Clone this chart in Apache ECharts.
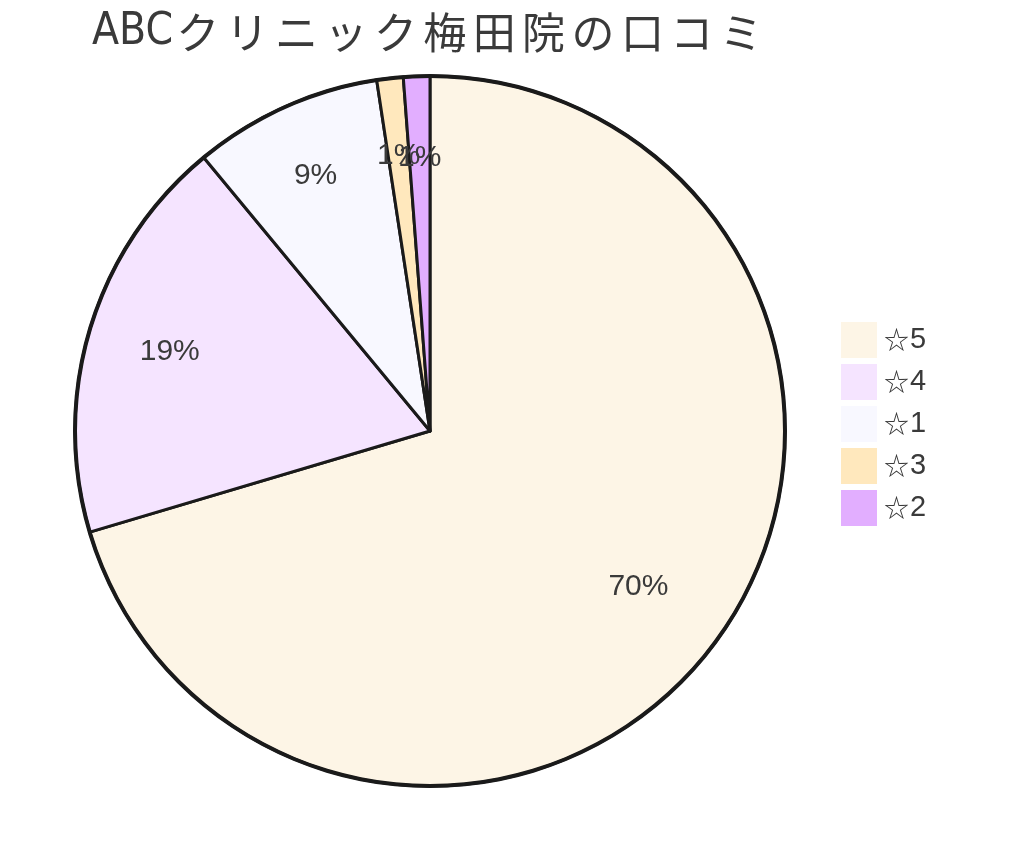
<!DOCTYPE html>
<html>
<head>
<meta charset="utf-8">
<script src="https://cdn.jsdelivr.net/npm/echarts@6/dist/echarts.min.js"></script>
<style>
html,body{margin:0;padding:0;background:#fff;}
#chart{width:1024px;height:861px;}
</style>
</head>
<body>
<div id="chart"></div>
<script>
const titleLatin = 'ABC';
const titleKana = 'クリニック梅田院の口コミ';
const categories = ['☆5', '☆4', '☆1', '☆3', '☆2'];
const values = [70.4, 18.6, 8.6, 1.2, 1.2];
const colors = ['#FDF5E6', '#F5E4FF', '#F8F8FF', '#FFE8BD', '#E2AEFF'];

const FONT = '"Liberation Sans", Arial, "Noto Sans CJK JP", sans-serif';
const TEXT = '#3a3a3a';
const data = categories.map((c, i) => ({ name: c, value: values[i], itemStyle: { color: colors[i] } }));

const titleRich = '{l|' + titleLatin + '}' + Array.from(titleKana).map(ch => '{k|' + ch + '}').join('');

function labelSeries(radius, showIdx) {
  return {
    type: 'pie',
    center: [430, 431],
    radius: radius,
    startAngle: 90,
    clockwise: true,
    avoidLabelOverlap: false,
    minShowLabelAngle: 0,
    labelLayout: { hideOverlap: false },
    data: categories.map((c, i) => ({
      name: c, value: values[i],
      label: { show: showIdx(i) }
    })),
    itemStyle: { color: 'rgba(0,0,0,0)', borderWidth: 0 },
    emphasis: { disabled: true },
    silent: true,
    legendHoverLink: false,
    label: {
      position: 'inside',
      overflow: 'none',
      formatter: p => Math.round(p.percent) + '%',
      fontFamily: FONT,
      fontSize: 30,
      color: TEXT
    },
    labelLine: { show: false }
  };
}

const chart = echarts.init(document.getElementById('chart'));
chart.setOption({
  backgroundColor: '#ffffff',
  animation: false,
  title: {
    text: titleRich,
    left: 92,
    top: 8,
    padding: 0,
    textStyle: {
      fontFamily: FONT, fontSize: 44, fontWeight: 'normal', color: TEXT, lineHeight: 50,
      rich: {
        l: { fontFamily: '"Liberation Sans Narrow", "DejaVu Sans Condensed", sans-serif', fontSize: 44, color: TEXT, lineHeight: 50 },
        k: { fontFamily: '"Noto Sans CJK JP", sans-serif', fontSize: 43, color: TEXT, padding: [0, 3.2, 0, 3.2], lineHeight: 50 }
      }
    }
  },
  legend: {
    orient: 'vertical',
    left: 841,
    top: 322,
    padding: 0,
    itemWidth: 36,
    itemHeight: 36,
    itemGap: 6,
    icon: 'rect',
    data: categories,
    itemStyle: { borderWidth: 0 },
    formatter: name => '{s|' + name.slice(0, 1) + '}{n|' + name.slice(1) + '}',
    textStyle: {
      fontFamily: FONT, fontSize: 29, color: TEXT, padding: [0, 0, 0, 2],
      rich: {
        s: { fontFamily: '"Noto Sans CJK JP", sans-serif', fontSize: 25, color: TEXT, padding: [0, 1, 2, 0] },
        n: { fontFamily: FONT, fontSize: 29, color: TEXT }
      }
    }
  },
  series: [
    {
      type: 'pie',
      center: [430, 431],
      radius: [0, 355],
      startAngle: 90,
      clockwise: true,
      data: data,
      label: { show: false },
      labelLine: { show: false },
      emphasis: { disabled: true },
      itemStyle: { borderColor: '#1a1a1a', borderWidth: 3 }
    },
    {
      type: 'pie',
      center: [430, 431],
      radius: [353, 357],
      startAngle: 90,
      silent: true,
      legendHoverLink: false,
      data: [{ name: '', value: 1 }],
      itemStyle: { color: '#1a1a1a', borderWidth: 0 },
      label: { show: false },
      labelLine: { show: false },
      emphasis: { disabled: true }
    },
    labelSeries([159, 355], i => i === 0),
    labelSeries([183, 355], i => i === 1),
    labelSeries([199, 355], i => i === 2),
    labelSeries([193, 355], i => i === 3),
    labelSeries([185, 355], i => i === 4)
  ]
});
</script>
</body>
</html>
